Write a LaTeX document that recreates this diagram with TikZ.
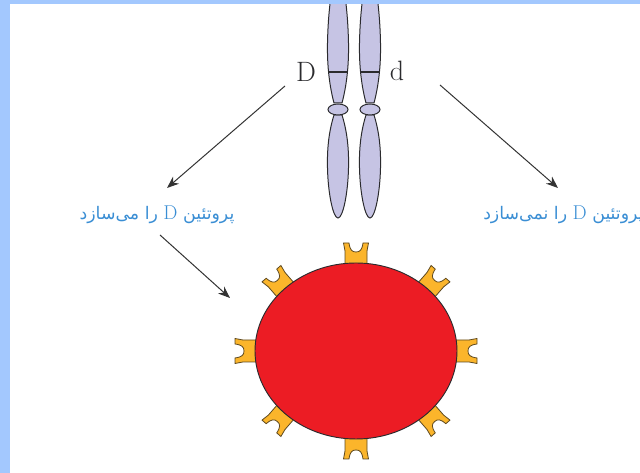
\documentclass[tikz,border=0pt]{standalone}
\usepackage{fontspec}
\usetikzlibrary{arrows.meta}
\newfontfamily\arabicfont[Script=Arabic]{DejaVu Sans}
\TeXXeTstate=1
\definecolor{ink}{HTML}{2B2B2E}
\definecolor{rim}{HTML}{A3C8FE}
\definecolor{lilac}{HTML}{C6C4E4}
\definecolor{sky}{HTML}{3A8ED4}
\definecolor{cellred}{HTML}{EC1C24}
\definecolor{gold}{HTML}{FBB52B}
\definecolor{goldedge}{HTML}{5E4A22}
\definecolor{arrowgray}{HTML}{333333}
\newcommand{\protD}{{\rmfamily\fontsize{15}{15}\selectfont D}}

\begin{document}
\begin{tikzpicture}[x=0.75pt, y=0.75pt,
    chromo/.style={draw=ink, fill=lilac, line width=0.75pt},
    band/.style={ink, line width=1.8pt},
    gene/.style={font=\fontsize{21}{21}\selectfont, text=ink, inner sep=0pt},
    fate/.style={font=\arabicfont\fontsize{13}{15}\selectfont, text=sky, inner sep=0pt},
    link/.style={-{Stealth[length=9pt, width=7pt]}, arrowgray, line width=0.75pt},
    receptor/.pic={
      \draw[fill=gold, draw=goldedge, line width=0.6pt]
        (-11,-8) -- (-11,12) -- (-12.5,20) -- (-7,20)
        .. controls (-6,13) and (-4,11) .. (0,11)
        .. controls (4,11) and (6,13) .. (7,20)
        -- (12.5,20) -- (11,12) -- (11,-8) -- cycle;
    }]
  \useasboundingbox (0,0) rectangle (640,473);

  % homologous chromosomes
  \foreach \cx in {338,370} {
    \draw[chromo] ({\cx-4},370) .. controls ({\cx-8},385) and ({\cx-11},405) .. ({\cx-10.5},430)
      .. controls ({\cx-10},455) and ({\cx-8},470) .. ({\cx-6},485)
      -- ({\cx+6},485)
      .. controls ({\cx+8},470) and ({\cx+10},455) .. ({\cx+10.5},430)
      .. controls ({\cx+11},405) and ({\cx+8},385) .. ({\cx+4},370) -- cycle;
    \draw[chromo] ({\cx-4},358) .. controls ({\cx-9},342) and ({\cx-11},325) .. ({\cx-10.5},305)
      .. controls ({\cx-10},280) and ({\cx-5},255) .. (\cx,255)
      .. controls ({\cx+5},255) and ({\cx+10},280) .. ({\cx+10.5},305)
      .. controls ({\cx+11},325) and ({\cx+9},342) .. ({\cx+4},358) -- cycle;
    \draw[chromo] (\cx,363.5) ellipse (10 and 5.5);
    \draw[band] ({\cx-10},401) -- ({\cx+10},401);
  }
  \node[gene] (alleleD) at (306,401) {D};
  \node[gene] (alleled) at (397,402) {d};

  % what each allele does
  \node[fate] (makesD) at (157,258) {\beginR پروتئین \protD{} را می‌سازد\endR};
  \node[fate, anchor=west] (lacksD) at (483,258) {\beginR پروتئین \protD{} را نمی‌سازد\endR};

  \coordinate (fromD) at (285,387);
  \coordinate (toMakes) at (167,285);
  \coordinate (fromd) at (440,388);
  \coordinate (toLacks) at (558,285);
  \coordinate (fromMakes) at (160,238);
  \coordinate (toCell) at (230,175);
  \draw[link] (fromD) -- (toMakes);
  \draw[link] (fromd) -- (toLacks);
  \draw[link] (fromMakes) -- (toCell);

  % red cell with its D proteins
  \foreach \t/\r in {0/0, 45/49, 90/90, 135/131, 180/180, 225/229, 270/270, 315/311}
    \pic[rotate=\r-90] at ({356+101*cos(\t)},{122+88*sin(\t)}) {receptor};
  \draw[draw=ink, fill=cellred, line width=0.7pt] (356,122) ellipse (101 and 88);

  % frame
  \fill[rim] (0,0) rectangle (10,473);
  \fill[rim] (0,469) rectangle (640,473);
\end{tikzpicture}
\end{document}
